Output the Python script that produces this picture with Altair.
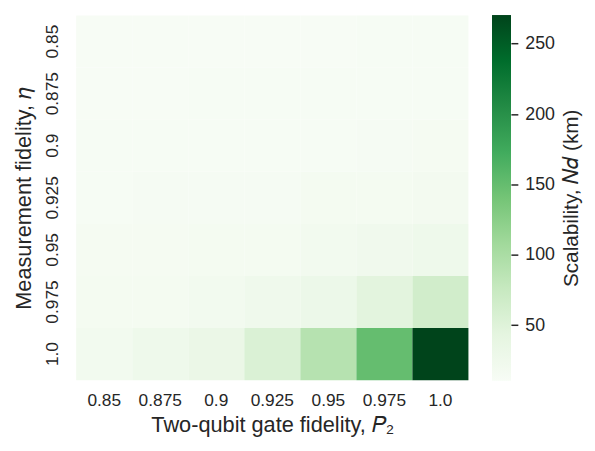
import altair as alt
import pandas as pd

p2_labels = ["0.85", "0.875", "0.9", "0.925", "0.95", "0.975", "1.0"]
eta_labels = ["0.85", "0.875", "0.9", "0.925", "0.95", "0.975", "1.0"]

# rows: eta (top to bottom), columns: P2
vals = [
    [11, 11, 11, 11, 11, 12, 12],
    [11, 11, 12, 12, 12, 13, 13],
    [12, 12, 12, 13, 13, 14, 15],
    [12, 14, 14, 14, 17, 17, 19],
    [15, 15, 17, 17, 20, 23, 27],
    [17, 17, 20, 25, 30, 45, 65],
    [20, 27, 32, 55, 90, 150, 270],
]
cb_ticks = [50, 100, 150, 200, 250]

rows = []
for i, e in enumerate(eta_labels):
    for j, p in enumerate(p2_labels):
        rows.append({"eta": e, "p2": p, "v": vals[i][j]})
df = pd.DataFrame(rows)

# matplotlib "Greens" colormap stops
greens = ["#f7fcf5", "#e5f5e0", "#c7e9c0", "#a1d99b", "#74c476",
          "#41ab5d", "#238b45", "#006d2c", "#00441b"]
vmin, vmax = 11, 270
n = len(greens) - 1
dom = [vmin + k * (vmax - vmin) / n for k in range(n + 1)]

FONT = "Liberation Sans"
TXT = "#262626"
H = 369

heat = alt.Chart(df).mark_rect().encode(
    x=alt.X("p2:O", sort=p2_labels,
            axis=alt.Axis(title="Two-qubit gate fidelity, 𝑃₂", labelAngle=0,
                          ticks=False, domain=False, labelPadding=12,
                          titlePadding=5)),
    y=alt.Y("eta:O", sort=eta_labels,
            axis=alt.Axis(title="Measurement fidelity, 𝜂", labelAngle=-90,
                          labelAlign="center", labelBaseline="bottom",
                          ticks=False, domain=False, labelPadding=15,
                          titlePadding=8)),
    color=alt.Color("v:Q",
                    scale=alt.Scale(domain=dom, range=greens, interpolate="rgb"),
                    legend=None),
).properties(width=397, height=H)

grad = alt.Gradient(
    gradient="linear",
    stops=[alt.GradientStop(color=c, offset=k / n) for k, c in enumerate(greens)],
    x1=0, x2=0, y1=1, y2=0,
)
tick_df = pd.DataFrame({"v": cb_ticks})
cb_bar = alt.Chart(tick_df).mark_rect(fill=grad).encode(
    x=alt.value(0), x2=alt.value(19), y=alt.value(0), y2=alt.value(H)
)
cb_axis = alt.Chart(tick_df).mark_point(opacity=0).encode(
    y=alt.Y("v:Q", scale=alt.Scale(domain=[vmin, vmax], nice=False, zero=False),
            axis=alt.Axis(orient="right", values=cb_ticks, title="Scalability, 𝑁𝑑 (km)",
                          titleAngle=270, titleBaseline="top", titlePadding=6,
                          tickSize=7, tickWidth=1.5,
                          tickColor=TXT, labelPadding=7, domain=False, grid=False,
                          labelFontSize=18, titleFontSize=21))
)
colorbar = alt.layer(cb_bar, cb_axis).properties(width=19, height=H)

chart = alt.hconcat(heat, colorbar, spacing=24).configure_axis(
    labelFont=FONT, titleFont=FONT, labelFontSize=17.5, titleFontSize=22,
    labelColor=TXT, titleColor=TXT, titleFontWeight="normal"
).configure_view(stroke=None)

chart.save("out.html", embed_options={"renderer": "svg", "actions": False})
